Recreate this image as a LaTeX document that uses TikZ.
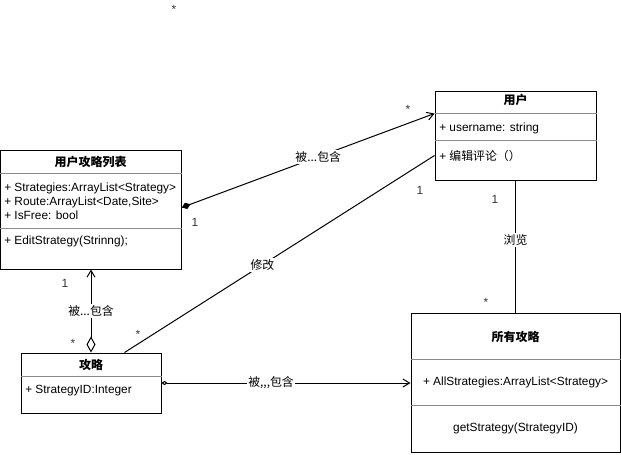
\documentclass[tikz,border=0pt]{standalone}
\usepackage{fontspec}
\setmainfont{Liberation Sans}
\newfontfamily\cjk{Noto Sans CJK SC}
\usetikzlibrary{arrows.meta,calc}
\begin{document}
\begin{tikzpicture}[x=0.75pt,y=-0.75pt,
  every node/.style={font=\fontsize{8.9}{10.5}\selectfont, inner sep=0pt, text=black},
  umlbox/.style={draw=black, line width=0.75pt, fill=white},
  div/.style={draw=black!45, line width=0.75pt},
  ttl/.style={font=\fontsize{9}{11}\selectfont\bfseries},
  attr/.style={anchor=west},
  conn/.style={draw=black, line width=0.75pt},
  lbl/.style={fill=white, inner sep=1pt},
  mult/.style={text=black!80}
]
\useasboundingbox (0,0) rectangle (621,454);

% boxes
\node[umlbox, minimum width=135.75pt, minimum height=89.25pt] (ual) at (90.75,209.5) {};
\node[umlbox, minimum width=120.75pt, minimum height=66.75pt] (user) at (515.5,135.5) {};
\node[umlbox, minimum width=105pt, minimum height=45pt] (gl) at (91,383) {};
\node[umlbox, minimum width=156.75pt, minimum height=104.25pt] (all) at (515.5,382.5) {};

% dividers
\draw[div] ($(ual.north west)+(0,24)$) -- ($(ual.north east)+(0,24)$);
\draw[div] ($(ual.north west)+(0,79)$) -- ($(ual.north east)+(0,79)$);
\draw[div] ($(user.north west)+(0,23)$) -- ($(user.north east)+(0,23)$);
\draw[div] ($(user.north west)+(0,50)$) -- ($(user.north east)+(0,50)$);
\draw[div] ($(gl.north west)+(0,24)$) -- ($(gl.north east)+(0,24)$);
\draw[div] ($(all.north west)+(0,47)$) -- ($(all.north east)+(0,47)$);
\draw[div] ($(all.north west)+(0,93)$) -- ($(all.north east)+(0,93)$);

% texts
\node[ttl] (ualt) at (90.5,162) {\cjk\bfseries 用户攻略列表};
\node[attr] (ua1) at (4,188) {+ Strategies:ArrayList<Strategy>};
\node[attr] (ua2) at (4,202) {+ Route:ArrayList<Date,Site>};
\node[attr] (ua3) at (4,215) {+ IsFree: bool};
\node[attr] (ua4) at (4,241) {+ EditStrategy(Strinng);};

\node[ttl] (usert) at (515.5,100) {\cjk\bfseries 用户};
\node[attr] (us1) at (439,128) {+ username: string};
\node[attr] (us2) at (439,156) {+ {\cjk 编辑评论（）}};

\node[ttl] (glt) at (91,365) {\cjk\bfseries 攻略};
\node[attr] (gl1) at (25,391) {+ StrategyID:Integer};

\node[ttl] (allt) at (515.5,337) {\cjk\bfseries 所有攻略};
\node (al1) at (515.5,382) {+ AllStrategies:ArrayList<Strategy>};
\node (al2) at (515.5,428) {getStrategy(StrategyID)};

% connectors
\draw[conn, {Diamond[open,length=12pt,width=6.75pt,line width=0.75pt,fill=white]}-{Straight Barb[length=5pt,width=6pt,line width=0.75pt]}]
  (gl.north) -- (gl.north |- ual.south)
  node[lbl, pos=0.5] (l1) {\cjk 被...包含};

\draw[conn, {Diamond[length=7pt,width=5pt]}-{Straight Barb[length=5pt,width=6pt,line width=0.75pt]}]
  ($(ual.north east)+(0,58)$) -- ($(user.north west)+(0,23)$)
  node[lbl, pos=0.54] (l2) {\cjk 被...包含};

\draw[conn] ($(user.north west)+(0,65)$) -- ($(gl.north west)+(104,0)$)
  node[lbl, pos=0.555] (l3) {\cjk 修改};

\draw[conn] (user.south) -- (all.north)
  node[lbl, pos=0.45] (l4) {\cjk 浏览};

\draw[conn, {Diamond[open,length=4.5pt,width=3.2pt,line width=0.75pt,fill=white]}-{Straight Barb[length=5pt,width=6pt,line width=0.75pt]}]
  (gl.east) -- (gl.east -| all.west)
  node[lbl, pos=0.44] (l5) {\cjk 被,,,包含};

% multiplicities
\node[mult] (m0) at (174,9) {*};
\node[mult] (m1) at (408,109) {*};
\node[mult] (m2) at (73,343) {*};
\node[mult] (m3) at (138,334) {*};
\node[mult] (m4) at (486,302) {*};
\node[mult] (n1) at (195,222) {1};
\node[mult] (n2) at (420,190) {1};
\node[mult] (n3) at (495,199) {1};
\node[mult] (n4) at (65,283) {1};
\end{tikzpicture}
\end{document}
